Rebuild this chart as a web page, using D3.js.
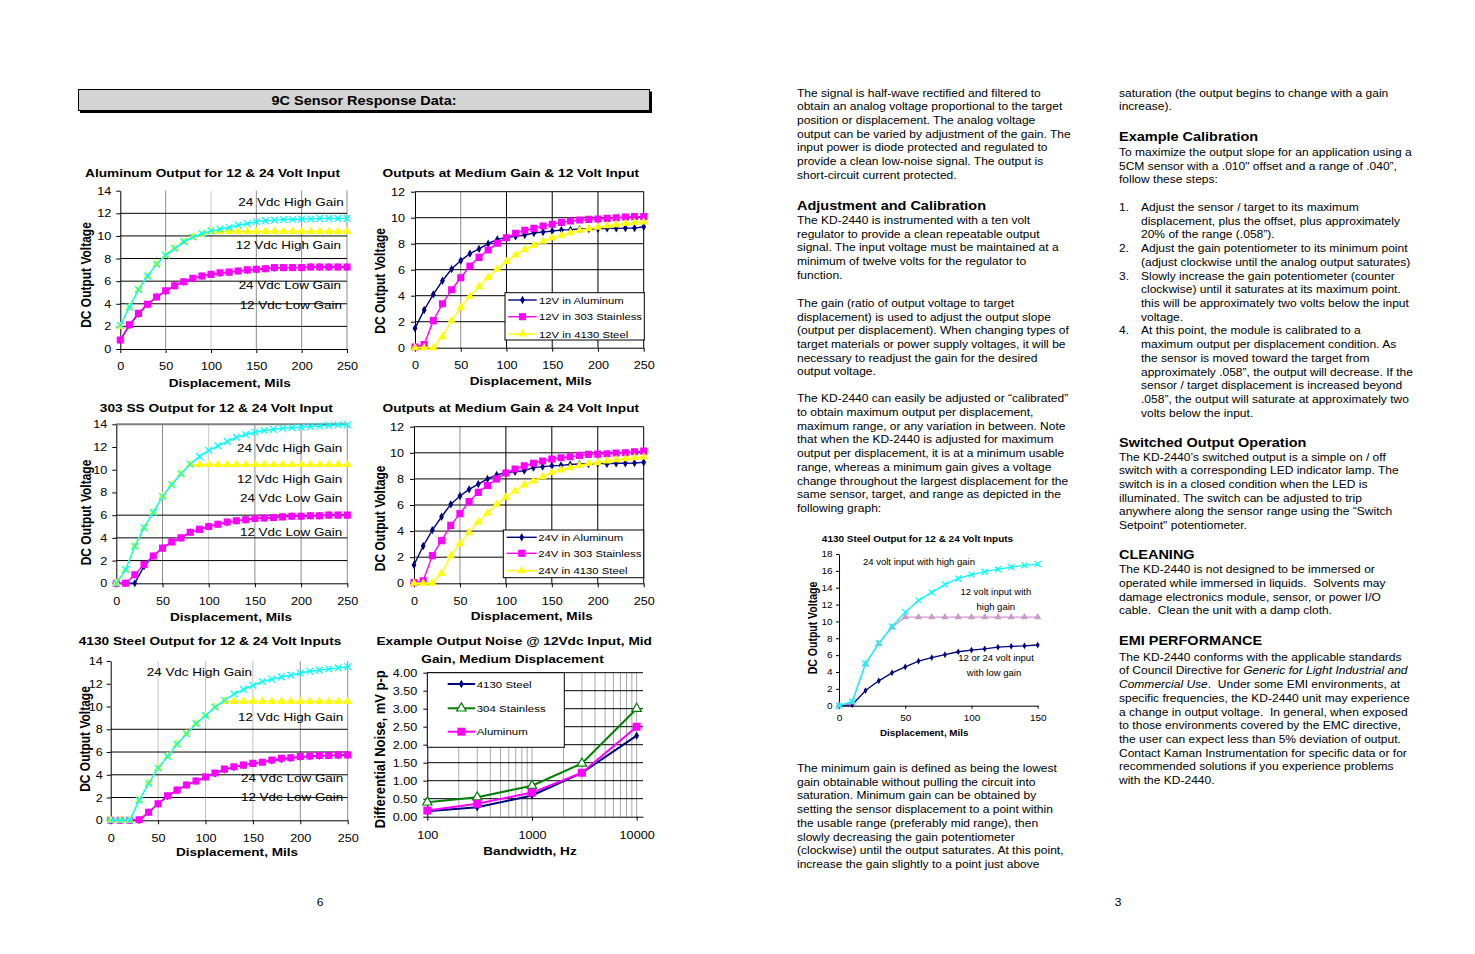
<!DOCTYPE html>
<html><head><meta charset="utf-8">
<script src="https://cdn.jsdelivr.net/npm/d3@7"></script>
<style>
body{margin:0;background:#fff}
svg{display:block}
text{white-space:pre}
</style>
</head><body>
<svg id="c" width="1475" height="954"></svg>
<script>
// ---------------- DATA ----------------
const disp = [0,10,20,30,40,50,60,70,80,90,100,110,120,130,140,150,160,170,180,190,200,210,220,230,240,250];
const dispTicks = [0,50,100,150,200,250];

// Aluminum output (chart 1)
const alu24High = [2.1,3.7,5.25,6.45,7.5,8.3,8.9,9.5,9.9,10.2,10.45,10.6,10.75,10.95,11.1,11.25,11.35,11.4,11.45,11.45,11.5,11.5,11.55,11.55,11.55,11.55];
const alu12High = [2.0,3.7,5.25,6.45,7.5,8.3,8.9,9.5,9.9,10.15,10.4,10.4,10.4,10.4,10.4,10.4,10.4,10.4,10.4,10.4,10.4,10.4,10.4,10.4,10.4,10.4];
const alu24Low  = [0.8,2.15,3.15,3.95,4.6,5.15,5.6,5.95,6.25,6.45,6.6,6.75,6.8,6.9,7.0,7.05,7.1,7.2,7.2,7.2,7.2,7.25,7.25,7.25,7.25,7.25];
const alu12Low  = [0.75,2.1,3.1,3.95,4.6,5.1,5.6,5.95,6.25,6.45,6.6,6.7,6.8,6.9,6.95,7.05,7.1,7.15,7.2,7.2,7.2,7.25,7.25,7.25,7.25,7.25];

// 303 SS output (chart 3)
const ss24High = [0,1.2,3.25,4.9,6.25,7.65,8.7,9.65,10.5,11.15,11.7,12.1,12.5,12.85,13.1,13.3,13.45,13.55,13.65,13.7,13.75,13.8,13.85,13.9,13.95,13.95];
const ss12High = [0,1.2,3.25,4.9,6.25,7.65,8.7,9.65,10.45,10.45,10.45,10.45,10.45,10.45,10.45,10.45,10.45,10.45,10.45,10.45,10.45,10.45,10.45,10.45,10.45,10.45];
const ss24Low  = [0,0,0.75,1.65,2.4,3.1,3.65,4.0,4.5,4.75,5.0,5.2,5.4,5.5,5.6,5.7,5.75,5.8,5.85,5.9,5.9,5.95,5.95,6.0,6.0,6.0];
const ss12Low  = [0,0,0,1.5,2.4,3.1,3.65,4.0,4.5,4.75,5.0,5.2,5.35,5.5,5.6,5.7,5.75,5.8,5.85,5.9,5.9,5.95,5.95,6.0,6.0,6.0];

// 4130 steel output (chart 5)
const st24High = [0,0,0,1.75,3.25,4.6,5.6,6.7,7.6,8.5,9.2,9.95,10.55,11.1,11.5,11.85,12.2,12.4,12.6,12.75,12.95,13.1,13.2,13.3,13.4,13.5];
const st12High = [0,0,0,1.75,3.25,4.6,5.6,6.7,7.6,8.5,9.2,9.95,10.45,10.45,10.45,10.45,10.45,10.45,10.45,10.45,10.45,10.45,10.45,10.45,10.45,10.45];
const st24Low  = [0,0,0,0.05,0.7,1.45,2.15,2.65,3.1,3.45,3.8,4.15,4.5,4.7,4.85,5.0,5.1,5.3,5.45,5.5,5.6,5.65,5.7,5.7,5.75,5.75];
const st12Low  = [0,0,0,0,0.7,1.45,2.1,2.65,3.1,3.45,3.8,4.1,4.45,4.65,4.85,5.0,5.1,5.25,5.35,5.45,5.55,5.6,5.65,5.7,5.7,5.75];

// Medium gain, 12 V (chart 2)
const med12Alu   = [1.49,2.9,4.1,5.15,6.05,6.7,7.23,7.6,8.0,8.33,8.49,8.56,8.67,8.82,8.9,8.97,9.05,9.08,9.13,9.13,9.15,9.18,9.18,9.2,9.2,9.3];
const med12SS    = [0.05,0.25,2.08,3.38,4.46,5.38,6.28,6.95,7.51,8.03,8.46,8.8,9.03,9.18,9.36,9.5,9.64,9.74,9.82,9.87,9.9,9.95,10.0,10.05,10.08,10.08];
const med12Steel = [0,0,0,0.85,2.08,3.1,3.95,4.7,5.41,6.05,6.62,7.13,7.56,7.87,8.18,8.44,8.64,8.85,9.03,9.15,9.26,9.38,9.46,9.56,9.62,9.67];
const legend12 = ["12V in Aluminum","12V in 303 Stainless","12V in 4130 Steel"];

// Medium gain, 24 V (chart 4)
const med24Alu   = [1.4,2.86,4.08,5.1,6.05,6.69,7.2,7.6,8.0,8.3,8.5,8.55,8.63,8.86,8.94,9.0,9.04,9.1,9.14,9.14,9.2,9.15,9.2,9.2,9.22,9.27];
const med24SS    = [0.05,0.2,2.12,3.27,4.44,5.34,6.26,6.97,7.5,8.0,8.45,8.76,9.0,9.2,9.37,9.52,9.62,9.7,9.8,9.88,9.9,9.93,9.98,10.0,10.08,10.13];
const med24Steel = [0,0,0,0.77,2.1,3.04,3.9,4.7,5.39,6.05,6.59,7.07,7.53,7.84,8.17,8.48,8.68,8.86,9.04,9.17,9.24,9.37,9.47,9.55,9.62,9.68];
const legend24 = ["24V in Aluminum","24V in 303 Stainless","24V in 4130 Steel"];

// Output noise (chart 6)
const noiseBw    = [100,300,1000,3000,10000];
const noiseBwTicks = [100,1000,10000];
const noiseSteel = [0.15,0.26,0.59,1.22,2.25];
const noiseSS    = [0.4,0.54,0.86,1.48,3.0];
const noiseAlu   = [0.17,0.36,0.67,1.22,2.5];
const noiseNames = ["4130 Steel","304 Stainless","Aluminum"];
const noiseMinor = [200,300,400,500,600,700,800,900,1000,2000,3000,4000,5000,6000,7000,8000,9000,10000];

// Small 4130 steel chart (chart 7)
const dispSmall = [0,10,20,30,40,50,60,70,80,90,100,110,120,130,140,150];
const small24High = [0,0.5,5.0,7.4,9.4,11.1,12.5,13.45,14.4,15.1,15.55,15.9,16.2,16.45,16.65,16.8];
const small12High = [0,0.4,4.95,7.35,9.3,10.5,10.5,10.5,10.5,10.5,10.5,10.5,10.5,10.5,10.5,10.5];
const smallLow    = [0,0.1,1.8,2.95,3.9,4.6,5.3,5.7,6.05,6.4,6.6,6.75,6.95,7.05,7.1,7.2];

// ---------------- TEXT ----------------
const col1a = ["The signal is half-wave rectified and filtered to","obtain an analog voltage proportional to the target","position or displacement. The analog voltage","output can be varied by adjustment of the gain. The","input power is diode protected and regulated to","provide a clean low-noise signal. The output is","short-circuit current protected."];
const col1b = ["The KD-2440 is instrumented with a ten volt","regulator to provide a clean repeatable output","signal. The input voltage must be maintained at a","minimum of twelve volts for the regulator to","function."];
const col1c = ["The gain (ratio of output voltage to target","displacement) is used to adjust the output slope","(output per displacement). When changing types of","target materials or power supply voltages, it will be","necessary to readjust the gain for the desired","output voltage."];
const col1d = ["The KD-2440 can easily be adjusted or “calibrated”","to obtain maximum output per displacement,","maximum range, or any variation in between. Note","that when the KD-2440 is adjusted for maximum","output per displacement, it is at a minimum usable","range, whereas a minimum gain gives a voltage","change throughout the largest displacement for the","same sensor, target, and range as depicted in the","following graph:"];
const col1e = ["The minimum gain is defined as being the lowest","gain obtainable without pulling the circuit into","saturation. Minimum gain can be obtained by","setting the sensor displacement to a point within","the usable range (preferably mid range), then","slowly decreasing the gain potentiometer","(clockwise) until the output saturates. At this point,","increase the gain slightly to a point just above"];
const col2a = ["saturation (the output begins to change with a gain","increase)."];
const col2b = ["To maximize the output slope for an application using a","5CM sensor with a .010\" offset and a range of .040”,","follow these steps:"];
const col2list = [
  ["1.",["Adjust the sensor / target to its maximum","displacement, plus the offset, plus approximately","20% of the range (.058”)."]],
  ["2.",["Adjust the gain potentiometer to its minimum point","(adjust clockwise until the analog output saturates)"]],
  ["3.",["Slowly increase the gain potentiometer (counter","clockwise) until it saturates at its maximum point.","this will be approximately two volts below the input","voltage."]],
  ["4.",["At this point, the module is calibrated to a","maximum output per displacement condition. As","the sensor is moved toward the target from","approximately .058”, the output will decrease. If the","sensor / target displacement is increased beyond",".058”, the output will saturate at approximately two","volts below the input."]]
];
const col2c = ["The KD-2440’s switched output is a simple on / off","switch with a corresponding LED indicator lamp. The","switch is in a closed condition when the LED is","illuminated. The switch can be adjusted to trip","anywhere along the sensor range using the “Switch","Setpoint\" potentiometer."];
const col2d = ["The KD-2440 is not designed to be immersed or","operated while immersed in liquids.  Solvents may","damage electronics module, sensor, or power I/O","cable.  Clean the unit with a damp cloth."];
const col2e = ["The KD-2440 conforms with the applicable standards","of Council Directive for <i>Generic for Light Industrial and</i>","<i>Commercial Use</i>.  Under some EMI environments, at","specific frequencies, the KD-2440 unit may experience","a change in output voltage.  In general, when exposed","to those environments covered by the EMC directive,","the user can expect less than 5% deviation of output.","Contact Kaman Instrumentation for specific data or for","recommended solutions if you experience problems","with the KD-2440."];

// ---------------- DRAWING ----------------
const SX = 1.16;
const FONT = '"Liberation Sans", Arial, Helvetica, sans-serif';
const svg = d3.select('#c');
const NAVY = '#000080', MAG = '#ff00ff', YEL = '#ffff00', CYAN = '#00ffff', GREEN = '#008000', LILAC = '#cc99cc';

function txt(parent, x, y, s, o = {}) {
  const t = parent.append('text')
    .attr('transform', `translate(${x},${y}) scale(${o.sx ?? SX},1)${o.rotate ? ' rotate(-90)' : ''}`)
    .attr('font-family', FONT)
    .attr('font-size', o.size || 10.4)
    .attr('text-anchor', o.anchor || 'start')
    .attr('fill', '#000');
  if (o.bold) t.attr('font-weight', 'bold');
  s.split(/(<i>.*?<\/i>)/).filter(p => p.length).forEach(p => {
    const it = p.startsWith('<i>');
    const ts = t.append('tspan').text(it ? p.slice(3, -4) : p);
    if (it) ts.attr('font-style', 'italic');
  });
  return t;
}

const symX = { draw(ctx, size) { const r = Math.sqrt(size) / 2; ctx.moveTo(-r, -r); ctx.lineTo(r, r); ctx.moveTo(-r, r); ctx.lineTo(r, -r); } };
const SYM = { diamond: d3.symbolDiamond, square: d3.symbolSquare, triangle: d3.symbolTriangle, x: symX };

function drawMarker(sel, s) {
  sel.attr('d', d3.symbol(SYM[s.marker], s.size))
    .attr('fill', s.marker === 'x' ? 'none' : (s.fill || s.color))
    .attr('stroke', s.marker === 'x' ? s.color : (s.stroke || 'none'))
    .attr('stroke-width', s.sw || 1.3);
}

function chart(c) {
  const g = svg.append('g');
  const x = (c.log ? d3.scaleLog() : d3.scaleLinear()).domain(c.xDomain).range([c.left, c.right]);
  const y = d3.scaleLinear().domain(c.yDomain).range([c.bottom, c.top]);

  (c.grid || []).forEach(gr => {
    gr.vals.forEach(v => {
      const l = g.append('line').attr('stroke', gr.color).attr('stroke-width', gr.w || 1);
      if (gr.dir === 'h') l.attr('x1', c.left).attr('x2', c.right).attr('y1', y(v)).attr('y2', y(v));
      else l.attr('y1', c.top).attr('y2', c.bottom).attr('x1', x(v)).attr('x2', x(v));
    });
  });

  const ya = d3.axisLeft(y).tickValues(c.yTicks).tickSize(c.tick).tickSizeOuter(0).tickPadding(c.yPad).tickFormat(d3.format(c.yFmt || 'd'));
  const xa = d3.axisBottom(x).tickValues(c.xTicks).tickSize(c.tick).tickSizeOuter(0).tickPadding(c.xPad).tickFormat(d3.format('d'));
  const gy = g.append('g').attr('transform', `translate(${c.left},0)`).call(ya);
  const gx = g.append('g').attr('transform', `translate(0,${c.bottom})`).call(xa);
  [gx, gy].forEach(a => {
    a.attr('font-family', FONT).attr('font-size', c.tickFont);
    a.select('.domain').attr('stroke', '#000');
    a.selectAll('.tick line').attr('stroke', '#000');
    a.selectAll('.tick text').attr('fill', '#000').each(function () {
      const t = d3.select(this);
      const tx = +t.attr('x') || 0, ty = +t.attr('y') || 0;
      t.attr('x', null).attr('y', null).attr('transform', `translate(${tx},${ty}) scale(${SX},1)`);
    });
  });

  const line = d3.line().x(d => x(d[0])).y(d => y(d[1]));
  const clipId = 'clip' + Math.round(c.left) + Math.round(c.top);
  svg.append('clipPath').attr('id', clipId).append('rect')
    .attr('x', c.left - 6).attr('y', c.top - 6).attr('width', c.right - c.left + 12).attr('height', c.bottom - c.top + 12);
  const sg = g.append('g').attr('clip-path', `url(#${clipId})`);
  c.series.forEach(s => {
    const pts = s.x.map((xv, i) => [xv, s.y[i]]);
    sg.append('path').attr('d', line(pts)).attr('fill', 'none').attr('stroke', s.color).attr('stroke-width', s.lw || 1.4);
    sg.selectAll(null).data(pts).join('path')
      .attr('transform', d => `translate(${x(d[0])},${y(d[1])})`)
      .call(drawMarker, s);
  });

  if (c.legend) {
    const L = c.legend;
    g.append('rect').attr('x', L.x).attr('y', L.y).attr('width', L.w).attr('height', L.h)
      .attr('fill', '#fff').attr('stroke', '#000').attr('stroke-width', 1);
    c.series.forEach((s, i) => {
      const yy = L.items[i];
      g.append('line').attr('x1', L.l1).attr('x2', L.l2).attr('y1', yy).attr('y2', yy)
        .attr('stroke', s.color).attr('stroke-width', s.lw || 1.4);
      g.append('path').attr('transform', `translate(${(L.l1 + L.l2) / 2},${yy})`).call(drawMarker, s);
      txt(g, L.tx, yy + 3.6, L.names[i], { size: L.size });
    });
  }

  (c.notes || []).forEach(n => txt(g, n[1], n[2], n[0], { size: c.noteFont, anchor: n[3] || 'end' }));
  c.title.forEach(t => txt(g, t[1], t[2], t[0], { size: c.titleFont, bold: true, anchor: 'middle' }));
  txt(g, c.xLabel[1], c.xLabel[2], c.xLabel[0], { size: c.xLabelFont, bold: true, anchor: 'middle' });
  txt(g, c.yLabel[1], c.yLabel[2], c.yLabel[0], { size: c.yLabelFont, bold: true, anchor: 'middle', rotate: true });
}

const ticks14 = [0,2,4,6,8,10,12,14], ticks12 = [0,2,4,6,8,10,12];
const common = { xDomain: [0, 250], xTicks: dispTicks, tick: 4, xPad: 9.5, tickFont: 10.9, noteFont: 11.6, titleFont: 11.8, xLabelFont: 11.7, yLabelFont: 12 };

// Chart 1: Aluminum
chart(Object.assign({}, common, {
  left: 120.3, right: 347, top: 190.7, bottom: 349, yDomain: [0, 14], yTicks: ticks14, yPad: 5,
  grid: [{ dir: 'v', vals: [50,150,200,250], color: '#8c8c8c' }, { dir: 'v', vals: [100], color: '#c8c8c8' }, { dir: 'h', vals: [2,4,6,8,10,12], color: '#000' }],
  series: [
    { x: disp, y: alu12Low, color: NAVY, marker: 'diamond', size: 18 },
    { x: disp, y: alu24Low, color: MAG, marker: 'square', size: 50 },
    { x: disp, y: alu12High, color: YEL, marker: 'triangle', size: 32 },
    { x: disp, y: alu24High, color: CYAN, marker: 'x', size: 45 }],
  notes: [['24 Vdc High Gain', 343.7, 205.7], ['12 Vdc High Gain', 341, 249.3], ['24 Vdc Low Gain', 341, 288.7], ['12 Vdc Low Gain', 342, 309.3]],
  title: [['Aluminum Output for 12 & 24 Volt Input', 212.5, 176.7]],
  xLabel: ['Displacement, Mils', 229.7, 386.7], yLabel: ['DC Output Voltage', 90.5, 275]
}));

// Chart 2: Medium gain 12V
chart(Object.assign({}, common, {
  left: 415, right: 643.7, top: 191.7, bottom: 347.7, yDomain: [0, 12], yTicks: ticks12, yPad: 6,
  grid: [{ dir: 'v', vals: [50], color: '#8c8c8c' }, { dir: 'v', vals: [100,150,200,250], color: '#000' }, { dir: 'h', vals: [2,4,6,8,10,12], color: '#000' }],
  series: [
    { x: disp, y: med12Alu, color: NAVY, marker: 'diamond', size: 20 },
    { x: disp, y: med12SS, color: MAG, marker: 'square', size: 50 },
    { x: disp, y: med12Steel, color: YEL, marker: 'triangle', size: 32 }],
  legend: { x: 505, y: 292.7, w: 139.3, h: 47.3, items: [300, 316.7, 334], l1: 508.3, l2: 536.7, tx: 539, names: legend12, size: 9.75 },
  title: [['Outputs at Medium Gain & 12 Volt Input', 510.8, 176.7]],
  xLabel: ['Displacement, Mils', 530.8, 385], yLabel: ['DC Output Voltage', 384.5, 280.8]
}));

// Chart 3: 303 SS
chart(Object.assign({}, common, {
  left: 116.3, right: 347.3, top: 424.3, bottom: 583.3, yDomain: [0, 14], yTicks: ticks14, yPad: 5,
  grid: [{ dir: 'v', vals: [50,150,200,250], color: '#8c8c8c' }, { dir: 'v', vals: [100], color: '#c8c8c8' }, { dir: 'h', vals: [2,4,6], color: '#000' }, { dir: 'h', vals: [14], color: '#808080', w: 2 }],
  series: [
    { x: disp, y: ss12Low, color: NAVY, marker: 'diamond', size: 18 },
    { x: disp, y: ss24Low, color: MAG, marker: 'square', size: 50 },
    { x: disp, y: ss12High, color: YEL, marker: 'triangle', size: 32 },
    { x: disp, y: ss24High, color: CYAN, marker: 'x', size: 45 }],
  notes: [['24 Vdc High Gain', 342.3, 452.3], ['12 Vdc High Gain', 342.3, 483.3], ['24 Vdc Low Gain', 342.3, 502.3], ['12 Vdc Low Gain', 342.3, 535.7]],
  title: [['303 SS Output for 12 & 24 Volt Input', 216.3, 411.7]],
  xLabel: ['Displacement, Mils', 231, 621], yLabel: ['DC Output Voltage', 90.5, 512.5]
}));

// Chart 4: Medium gain 24V
chart(Object.assign({}, common, {
  left: 414, right: 643.7, top: 426.7, bottom: 583.3, yDomain: [0, 12], yTicks: ticks12, yPad: 6,
  grid: [{ dir: 'v', vals: [50], color: '#8c8c8c' }, { dir: 'v', vals: [100,150,200,250], color: '#000' }, { dir: 'h', vals: [2,4,6,8,10,12], color: '#000' }],
  series: [
    { x: disp, y: med24Alu, color: NAVY, marker: 'diamond', size: 20 },
    { x: disp, y: med24SS, color: MAG, marker: 'square', size: 50 },
    { x: disp, y: med24Steel, color: YEL, marker: 'triangle', size: 32 }],
  legend: { x: 503.3, y: 530, w: 140.4, h: 47.7, items: [537.3, 553.3, 570.7], l1: 506.7, l2: 536.7, tx: 538.3, names: legend24, size: 9.75 },
  title: [['Outputs at Medium Gain & 24 Volt Input', 510.8, 411.7]],
  xLabel: ['Displacement, Mils', 531.7, 620], yLabel: ['DC Output Voltage', 384.5, 518.3]
}));

// Chart 5: 4130 Steel
chart(Object.assign({}, common, {
  left: 110.7, right: 347.7, top: 661, bottom: 820.3, yDomain: [0, 14], yTicks: ticks14, yPad: 4,
  grid: [{ dir: 'v', vals: [50,100,150], color: '#c0c0c0' }, { dir: 'v', vals: [200,250], color: '#8c8c8c' }, { dir: 'h', vals: [2,4,6,8], color: '#000' }],
  series: [
    { x: disp, y: st12Low, color: NAVY, marker: 'diamond', size: 18 },
    { x: disp, y: st24Low, color: MAG, marker: 'square', size: 50 },
    { x: disp, y: st12High, color: YEL, marker: 'triangle', size: 32 },
    { x: disp, y: st24High, color: CYAN, marker: 'x', size: 45 }],
  notes: [['24 Vdc High Gain', 146.7, 675.7, 'start'], ['12 Vdc High Gain', 343.3, 720.7], ['24 Vdc Low Gain', 343.3, 781.7], ['12 Vdc Low Gain', 343.3, 801]],
  title: [['4130 Steel Output for 12 & 24 Volt Inputs', 210, 645]],
  xLabel: ['Displacement, Mils', 237, 856], yLabel: ['DC Output Voltage', 89.5, 739]
}));

// Chart 6: Output noise
chart(Object.assign({}, common, {
  log: true, xDomain: [100, 11500], xTicks: noiseBwTicks,
  left: 427.3, right: 643, top: 672.7, bottom: 816.7, yDomain: [0, 4], yTicks: [0,0.5,1,1.5,2,2.5,3,3.5,4], yFmt: '.2f', yPad: 6, xPad: 11,
  grid: [{ dir: 'v', vals: noiseMinor, color: '#a8a8a8' }, { dir: 'h', vals: [0.5,1,1.5,2,2.5,3,3.5,4], color: '#000' }],
  series: [
    { x: noiseBw, y: noiseSteel, color: NAVY, marker: 'diamond', size: 20, lw: 2 },
    { x: noiseBw, y: noiseSS, color: GREEN, marker: 'triangle', size: 38, lw: 2, fill: '#fff', stroke: GREEN, sw: 1.2 },
    { x: noiseBw, y: noiseAlu, color: MAG, marker: 'square', size: 64, lw: 2 }],
  legend: { x: 427.3, y: 672.7, w: 137, h: 74.6, items: [684, 708.3, 731.7], l1: 447.7, l2: 475, tx: 476.7, names: noiseNames, size: 9.9 },
  title: [['Example Output Noise @ 12Vdc Input, Mid', 514.2, 645], ['Gain, Medium Displacement', 512.5, 662.7]],
  xLabel: ['Bandwidth, Hz', 530, 855], yLabel: ['Differential Noise, mV p-p', 385, 749.2], yLabelFont: 13
}));

// Chart 7: small 4130 steel chart
chart({
  xDomain: [0, 150], xTicks: [0, 50, 100, 150], tick: 3, xPad: 6.5, yPad: 3.5, tickFont: 8.6,
  left: 839, right: 1037.7, top: 554, bottom: 705.7, yDomain: [0, 18], yTicks: [0,2,4,6,8,10,12,14,16,18],
  grid: [],
  series: [
    { x: dispSmall, y: smallLow, color: NAVY, marker: 'diamond', size: 13, lw: 1.3 },
    { x: dispSmall, y: small12High, color: LILAC, marker: 'triangle', size: 24, lw: 1.3 },
    { x: dispSmall, y: small24High, color: CYAN, marker: 'x', size: 36, lw: 1.3 }],
  notes: [['24 volt input with high gain', 919, 564.7, 'middle'], ['12 volt input with', 995.8, 594.7, 'middle'], ['high gain', 995.8, 609.7, 'middle'], ['12 or 24 volt input', 996, 661.3, 'middle'], ['with low gain', 994, 676.3, 'middle']],
  noteFont: 8.2, titleFont: 8.6, xLabelFont: 8.5, yLabelFont: 10.5,
  title: [['4130 Steel Output for 12 & 24 Volt Inputs', 917.5, 541.5]],
  xLabel: ['Displacement, Mils', 924.2, 736.3], yLabel: ['DC Output Voltage', 816.5, 628]
});

// Title bar
const tb = svg.append('g');
tb.append('rect').attr('x', 80).attr('y', 91.5).attr('width', 572).attr('height', 21.5).attr('fill', '#000');
tb.append('rect').attr('x', 78.5).attr('y', 89.5).attr('width', 571).attr('height', 21).attr('fill', '#d4d4d4').attr('stroke', '#000').attr('stroke-width', 1);
txt(tb, 364, 104.5, '9C Sensor Response Data:', { size: 12.5, bold: true, anchor: 'middle' });

// Text columns
const tg = svg.append('g');
const LH = 13.72, BODY = 10.37, HEAD = 12.5;
function para(x, y0, lines) { lines.forEach((l, i) => txt(tg, x, y0 + i * LH, l, { size: BODY })); return y0 + (lines.length - 1) * LH; }
para(797, 96.5, col1a);
txt(tg, 797, 209.5, 'Adjustment and Calibration', { size: HEAD, bold: true });
para(797, 224, col1b);
para(797, 306.8, col1c);
para(797, 402.3, col1d);
para(797, 772, col1e);

para(1119, 96.5, col2a);
txt(tg, 1119, 141, 'Example Calibration', { size: HEAD, bold: true });
para(1119, 156, col2b);
let ly = 211;
col2list.forEach(item => {
  txt(tg, 1119, ly, item[0], { size: BODY });
  ly = para(1141, ly, item[1]) + LH;
});
txt(tg, 1119, 446.5, 'Switched Output Operation', { size: HEAD, bold: true });
para(1119, 460.5, col2c);
txt(tg, 1119, 559, 'CLEANING', { size: HEAD, bold: true });
para(1119, 573.3, col2d);
txt(tg, 1119, 645, 'EMI PERFORMANCE', { size: HEAD, bold: true });
para(1119, 660.7, col2e);

// Page numbers
txt(tg, 320, 906, '6', { size: 10.4, anchor: 'middle' });
txt(tg, 1118, 906, '3', { size: 10.4, anchor: 'middle' });
</script>
</body></html>
